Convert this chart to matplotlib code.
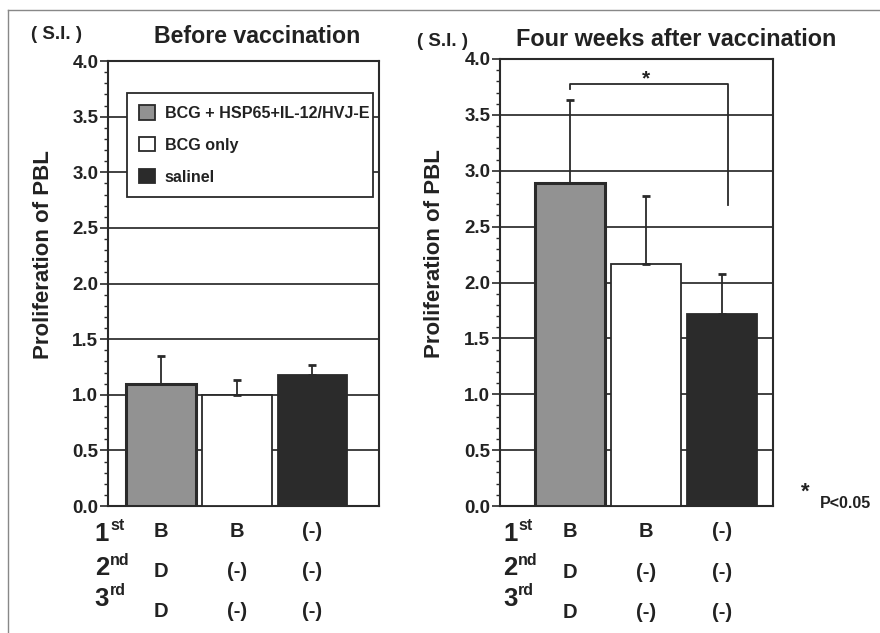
import matplotlib.pyplot as plt
import matplotlib as mpl
import numpy as np
from matplotlib.lines import Line2D
from matplotlib.patches import Patch
from matplotlib.transforms import blended_transform_factory

plt.rcParams["font.family"] = ["Liberation Sans", "DejaVu Sans"]
plt.rcParams["font.weight"] = "bold"

# data
groups = ["BCG + HSP65+IL-12/HVJ-E", "BCG only", "salinel"]
before_mean = [1.10, 1.00, 1.18]
before_err = [0.25, 0.13, 0.09]
after_mean = [2.89, 2.17, 1.72]
after_err = [0.74, 0.60, 0.36]

row_names = ["1", "2", "3"]
row_sups = ["st", "nd", "rd"]
schedule = [["B", "B", "(-)"],
            ["D", "(-)", "(-)"],
            ["D", "(-)", "(-)"]]

bar_colors = ["#929292", "white", "#2b2b2b"]
edge = "#2a2a2a"
txt = "#222222"

fig = plt.figure(figsize=(8.8, 6.33), dpi=100)

ax1 = fig.add_axes([0.1227, 0.2006, 0.308, 0.703])
ax2 = fig.add_axes([0.5682, 0.2006, 0.3102, 0.7062])

x = np.arange(3)


def draw_panel(ax, means, errs, xlim):
    ax.bar(x, means, width=0.92, color=bar_colors, edgecolor=edge,
           linewidth=[2.2, 1.3, 1.3], zorder=3)
    ax.errorbar(x, means, yerr=[np.zeros(3), errs], fmt="none",
                ecolor=edge, elinewidth=1.3, capsize=3, capthick=2, zorder=4)
    ax.set_ylim(0, 4.0)
    ax.set_xlim(*xlim)
    ax.set_yticks(np.arange(0, 4.01, 0.5))
    ax.set_yticks(np.arange(0, 4.01, 0.1), minor=True)
    ax.yaxis.set_major_formatter(mpl.ticker.FormatStrFormatter("%.1f"))
    ax.set_xticks([])
    ax.tick_params(axis="y", which="major", length=6, width=1.2,
                   labelsize=13.5, pad=1, color=edge)
    ax.tick_params(axis="y", which="minor", length=3, width=1, color=edge)
    for lab in ax.get_yticklabels():
        lab.set_fontweight("bold")
        lab.set_color(txt)
    ax.grid(axis="y", which="major", color="#333333", linewidth=1.3)
    ax.set_axisbelow(True)
    for s in ax.spines.values():
        s.set_linewidth(1.5)
        s.set_color(edge)
    ax.set_ylabel("Proliferation of PBL", fontsize=16, fontweight="bold",
                  color=txt)
    ax.yaxis.set_label_coords(-0.20, 0.565)

    # schedule table under the bars
    tr = blended_transform_factory(ax.transData, ax.transAxes)
    row_y = [-0.058, -0.148, -0.238]
    for r in range(3):
        for c in range(3):
            ax.text(x[c], row_y[r], schedule[r][c], transform=tr,
                    ha="center", va="center", fontsize=14.5,
                    fontweight="bold", color=txt)


draw_panel(ax1, before_mean, before_err, (-0.70, 2.88))
draw_panel(ax2, after_mean, after_err, (-0.92, 2.67))

# row labels 1st 2nd 3rd
for xf in [0.124, 0.588]:
    for r, yf in enumerate([0.157, 0.102, 0.054]):
        fig.text(xf, yf, row_names[r], ha="right", va="center",
                 fontsize=18.5, fontweight="bold", color=txt)
        fig.text(xf + 0.001, yf + 0.013, row_sups[r], ha="left", va="center",
                 fontsize=11.5, fontweight="bold", color=txt)

# titles
fig.text(0.292, 0.943, "Before vaccination", ha="center", va="center",
         fontsize=16.7, fontweight="bold", color=txt)
fig.text(0.064, 0.945, "( S.I. )", ha="center", va="center",
         fontsize=13.5, fontweight="bold", color=txt)
fig.text(0.768, 0.938, "Four weeks after vaccination", ha="center",
         va="center", fontsize=16.8, fontweight="bold", color=txt)
fig.text(0.503, 0.934, "( S.I. )", ha="center", va="center",
         fontsize=13.5, fontweight="bold", color=txt)

# legend in the left panel
handles = [Patch(facecolor=c, edgecolor=edge, linewidth=1.3) for c in bar_colors]
leg = ax1.legend(handles, groups, loc="upper left",
                 bbox_to_anchor=(0.07, 0.706, 0.908, 0.222), mode="expand",
                 borderaxespad=0, fontsize=11.6, handlelength=1.0,
                 handleheight=1.0, labelspacing=1.0, handletextpad=0.6,
                 borderpad=0.75, fancybox=False, framealpha=1, edgecolor=edge)
leg.get_frame().set_linewidth(1.3)
leg.set_zorder(5)
for t in leg.get_texts():
    t.set_fontweight("bold")
    t.set_color(txt)

# significance bracket
ax2.plot([0, 0, 2.08, 2.08], [3.73, 3.78, 3.78, 2.69], color=edge,
         linewidth=1.3, zorder=4)
ax2.text(1.0, 3.74, "*", ha="center", va="bottom", fontsize=15,
         fontweight="bold", color=txt)

fig.text(0.915, 0.222, "*", ha="center", va="center", fontsize=16,
         fontweight="bold", color=txt)
fig.text(0.932, 0.205, "P<0.05", ha="left", va="center", fontsize=11.5,
         fontweight="bold", color=txt)

# outer frame
fig.add_artist(Line2D([0.009, 1.0], [0.984, 0.984], color="#888888",
                      linewidth=1, transform=fig.transFigure))
fig.add_artist(Line2D([0.009, 0.009], [0.0, 0.984], color="#888888",
                      linewidth=1, transform=fig.transFigure))

fig.savefig("out.png", dpi=100)
